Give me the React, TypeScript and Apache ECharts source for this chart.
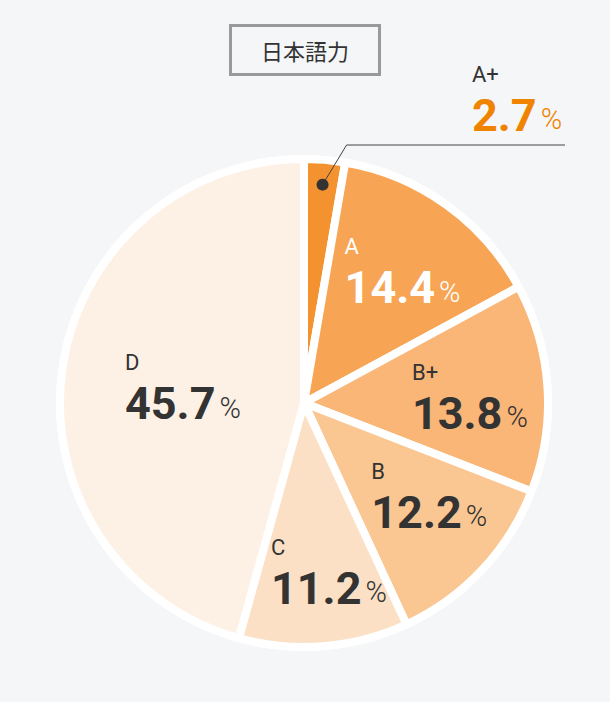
import React, { useEffect, useRef } from 'react';
import * as echarts from 'echarts';

const titleText = '日本語力';
const categories = ['A+', 'A', 'B+', 'B', 'C', 'D'];
const shares = [2.7, 14.4, 13.8, 12.2, 11.2, 45.7];
const sliceColors = ['#f4922f', '#f7a555', '#f9b677', '#fac792', '#fce0c5', '#fdf1e6'];
const letterColors = ['#333333', '#ffffff', '#333333', '#333333', '#333333', '#333333'];
const numberColors = ['#f08300', '#ffffff', '#333333', '#333333', '#333333', '#333333'];

// layout constants
const W = 610;
const H = 702;
const CX = 304;
const CY = 403;
const R = 240;
const BORDER = 8;
const labelRadius = [0, 164, 166, 156, 171, 122];
const labelAngleShift = [0, 1.3, 1.6, -6.6, -3.7, -0.6];
const numberFont = 'Roboto';

const total = shares.reduce((a, b) => a + b, 0);
const midAngles: number[] = [];
{
  let acc = 0;
  shares.forEach((v) => {
    midAngles.push(((acc + v / 2) / total) * 360);
    acc += v;
  });
}
const polar = (r: number, deg: number) => {
  const t = (deg * Math.PI) / 180;
  return [CX + r * Math.sin(t), CY - r * Math.cos(t)];
};

const dot = polar(R * 0.913, midAngles[0]);
const guideY = 145;
const guideEndX = 565;
const outerLabelX = 472;
const outerLabelY = 99;

export default function App() {
  const ref = useRef<HTMLDivElement>(null);
  useEffect(() => {
    if (!ref.current) return;
    const chart = echarts.init(ref.current, undefined, { renderer: 'svg' });
    const data = categories.map((name, i) => ({
      name,
      value: shares[i],
      itemStyle: { color: sliceColors[i] },
      label: {
        show: true,
        position: i === 0 ? 'outside' : 'inside',
        formatter: `{l|${name}}\n{n|${shares[i].toFixed(1)}}{p|%}`,
        rich: {
          l: {
            fontSize: 22,
            fontFamily: 'Roboto',
            color: letterColors[i],
            lineHeight: 32,
            align: 'left',
          },
          n: {
            fontSize: 45,
            fontWeight: 'bold',
            fontFamily: numberFont,
            color: numberColors[i],
            lineHeight: 50,
            align: 'left',
          },
          p: {
            fontSize: 29,
            fontFamily: 'Roboto',
            fontWeight: 300,
            color: numberColors[i],
            lineHeight: 50,
            align: 'left',
            padding: [8, 0, 0, 4],
          },
        },
      },
      labelLine: { show: false },
    }));
    chart.setOption({
      animation: false,
      backgroundColor: '#f4f6f8',
      title: {
        text: titleText,
        left: 'center',
        top: 25,
        padding: [14, 31],
        borderColor: '#999999',
        borderWidth: 3,
        textStyle: {
          fontSize: 22,
          fontWeight: 'normal',
          color: '#333333',
          fontFamily: 'Noto Sans CJK JP',
        },
      },
      graphic: [
        { type: 'circle', shape: { cx: CX, cy: CY, r: R + 8 }, style: { fill: '#ffffff' }, z: 0 },
        {
          type: 'polyline',
          shape: {
            points: [
              [dot[0], dot[1]],
              [dot[0] + 24, guideY],
              [guideEndX, guideY],
            ],
          },
          style: { stroke: '#444444', lineWidth: 1, fill: null },
          z: 100,
        },
        {
          type: 'circle',
          shape: { cx: dot[0], cy: dot[1], r: 6 },
          style: { fill: '#333333' },
          z: 101,
        },
      ],
      series: [
        {
          type: 'pie',
          center: [CX, CY],
          radius: R + BORDER / 2,
          startAngle: 90,
          clockwise: true,
          z: 2,
          itemStyle: { borderColor: '#ffffff', borderWidth: BORDER },
          emphasis: { disabled: true },
          labelLayout: (params: any) => {
            const i = params.dataIndex;
            if (i === 0) {
              return { x: outerLabelX, y: outerLabelY, align: 'left', verticalAlign: 'middle' };
            }
            const p = polar(labelRadius[i], midAngles[i] + labelAngleShift[i]);
            return { x: p[0], y: p[1], align: 'center', verticalAlign: 'middle' };
          },
          data,
        },
      ],
    });
    return () => chart.dispose();
  }, []);
  return (
    <div
      ref={ref}
      style={{ position: 'fixed', left: 0, top: 0, width: W, height: H }}
    />
  );
}
